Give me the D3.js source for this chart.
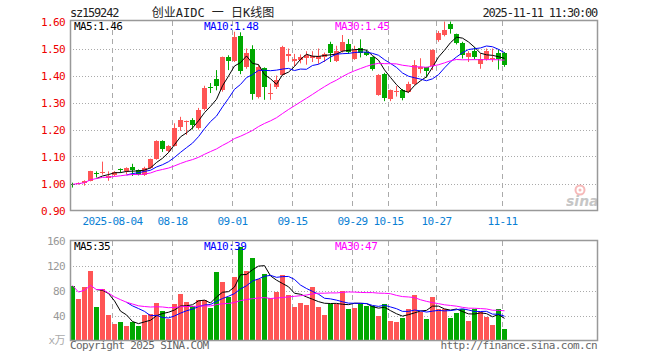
<!DOCTYPE html>
<html lang="zh">
<head>
<meta charset="utf-8">
<title>创业AIDC 日K线图</title>
<script src="https://cdn.jsdelivr.net/npm/d3@7"></script>
<style>
  body { margin: 0; background: #fff; }
  text { font-family: "DejaVu Sans Mono", "Liberation Mono", "Noto Sans CJK SC", monospace; font-size: 11px; letter-spacing: -0.6px; }
</style>
</head>
<body>
<script>

// trading days shown in the chart
var dates = [
  "2025-07-24","2025-07-25","2025-07-28","2025-07-29","2025-07-30","2025-07-31",
  "2025-08-01","2025-08-04","2025-08-05","2025-08-06","2025-08-07","2025-08-08",
  "2025-08-11","2025-08-12","2025-08-13","2025-08-14","2025-08-15","2025-08-18",
  "2025-08-19","2025-08-20","2025-08-21","2025-08-22","2025-08-25","2025-08-26",
  "2025-08-27","2025-08-28","2025-08-29","2025-09-01","2025-09-02","2025-09-03",
  "2025-09-04","2025-09-05","2025-09-08","2025-09-09","2025-09-10","2025-09-11",
  "2025-09-12","2025-09-15","2025-09-16","2025-09-17","2025-09-18","2025-09-19",
  "2025-09-22","2025-09-23","2025-09-24","2025-09-25","2025-09-26","2025-09-29",
  "2025-09-30","2025-10-09","2025-10-10","2025-10-13","2025-10-14","2025-10-15",
  "2025-10-16","2025-10-17","2025-10-20","2025-10-21","2025-10-22","2025-10-23",
  "2025-10-24","2025-10-27","2025-10-28","2025-10-29","2025-10-30","2025-10-31",
  "2025-11-03","2025-11-04","2025-11-05","2025-11-06","2025-11-07","2025-11-10",
  "2025-11-11"
];

var open = [
  1.000,0.998,1.003,1.011,1.040,1.040,1.022,1.030,1.052,1.045,1.060,1.050,
  1.033,1.057,1.091,1.158,1.120,1.140,1.210,1.230,1.234,1.205,1.275,1.356,
  1.386,1.345,1.470,1.455,1.545,1.433,1.500,1.322,1.427,1.333,1.358,1.402,
  1.472,1.452,1.457,1.464,1.466,1.460,1.470,1.515,1.455,1.490,1.518,1.462,
  1.503,1.488,1.467,1.328,1.405,1.314,1.340,1.345,1.340,1.370,1.425,1.430,
  1.435,1.530,1.550,1.592,1.552,1.520,1.467,1.491,1.443,1.462,1.462,1.483,
  1.483
];
var high = [
  1.003,1.004,1.012,1.047,1.045,1.081,1.045,1.046,1.056,1.060,1.073,1.052,
  1.062,1.092,1.160,1.160,1.142,1.223,1.247,1.233,1.242,1.280,1.362,1.372,
  1.420,1.470,1.475,1.562,1.560,1.500,1.512,1.440,1.430,1.370,1.400,1.510,
  1.500,1.480,1.478,1.490,1.490,1.500,1.485,1.525,1.510,1.550,1.535,1.510,
  1.534,1.495,1.470,1.405,1.410,1.348,1.361,1.350,1.377,1.457,1.464,1.432,
  1.497,1.565,1.600,1.600,1.555,1.525,1.490,1.505,1.482,1.500,1.500,1.497,
  1.487
];
var low = [
  0.985,0.996,0.992,1.008,1.022,1.033,1.010,1.028,1.040,1.034,1.028,1.030,
  1.028,1.055,1.088,1.117,1.115,1.137,1.195,1.180,1.200,1.200,1.270,1.335,
  1.345,1.340,1.420,1.450,1.405,1.425,1.310,1.315,1.310,1.310,1.350,1.400,
  1.451,1.435,1.445,1.440,1.450,1.443,1.450,1.450,1.450,1.485,1.480,1.458,
  1.467,1.472,1.418,1.325,1.305,1.305,1.322,1.308,1.335,1.365,1.408,1.392,
  1.420,1.525,1.545,1.555,1.515,1.463,1.450,1.460,1.425,1.455,1.450,1.422,
  1.432
];
var close = [
  0.997,1.002,1.010,1.046,1.037,1.044,1.028,1.044,1.049,1.058,1.050,1.033,
  1.058,1.090,1.158,1.128,1.139,1.204,1.235,1.232,1.218,1.272,1.355,1.352,
  1.362,1.468,1.452,1.542,1.415,1.485,1.330,1.430,1.357,1.337,1.383,1.507,
  1.478,1.462,1.470,1.476,1.472,1.473,1.480,1.482,1.490,1.525,1.488,1.495,
  1.485,1.477,1.424,1.403,1.315,1.345,1.343,1.318,1.368,1.440,1.433,1.418,
  1.494,1.556,1.567,1.573,1.520,1.476,1.485,1.470,1.462,1.490,1.466,1.460,
  1.440
];
// volume, in 10k lots (x万)
var volume = [
  88,67,86,112,54,83,41,27,30,24,30,24,41,43,60,48,34,59,75,62,
  56,65,65,52,110,94,70,102,150,112,132,99,106,68,78,105,73,54,60,57,
  86,54,41,58,58,79,51,52,58,55,55,39,59,31,30,36,51,73,46,35,
  70,51,51,36,44,50,32,50,45,38,25,50,19
];

var tickDates  = ["2025-08-04","2025-08-18","2025-09-01","2025-09-15","2025-09-29","2025-10-15","2025-10-27","2025-11-11"];
var tickLabels = ["2025-08-04","08-18","09-01","09-15","09-29","10-15","10-27","11-11"];
var priceTicks = [0.9, 1.0, 1.1, 1.2, 1.3, 1.4, 1.5, 1.6];
var volTicks = [40, 80, 120, 160];
var priceLegend = ["MA5:1.46", "MA10:1.48", "MA30:1.45"];
var volLegend = ["MA5:35", "MA10:39", "MA30:47"];

var w = 660, h = 360;
var left = 70, right = 597.5;
var red = "#ff5555", green = "#00a800", gridCol = "#aaaaaa", frameCol = "#999999";
var maColors = ["#000000", "#0000ff", "#ff00ff"];

var svg = d3.select("body").append("svg")
    .attr("width", w)
    .attr("height", h);

var x = d3.scaleBand().domain(dates).range([left, left + dates.length * 6]);
var yP = d3.scaleLinear().domain([0.9, 1.6]).range([210.5, 21.5]);
var yV = d3.scaleLinear().domain([0, 160]).range([340.5, 240.5]);

var rows = dates.map(function(d, i) {
    return { date: d, o: open[i], h: high[i], l: low[i], c: close[i], v: volume[i] };
});

// MA5/MA10 start once enough days exist, MA30 averages what is there
function movingAvg(arr, n, partial) {
    return arr.map(function(v, i) {
        if (i + 1 < n && !partial) return null;
        return d3.mean(arr.slice(Math.max(0, i - n + 1), i + 1));
    });
}

function cx(d) { return x(d) + 2.5; }

// header
svg.append("text").attr("x", 70).attr("y", 17).attr("fill", "#222")
    .style("font-size", "12px").style("letter-spacing", "-1.2px").text("sz159242");
svg.append("text").attr("x", 213).attr("y", 17).attr("fill", "#222")
    .attr("text-anchor", "middle").style("font-size", "12px").style("letter-spacing", "0px")
    .text("创业AIDC 一 日K线图");
svg.append("text").attr("x", 597).attr("y", 17).attr("fill", "#222")
    .attr("text-anchor", "end").style("font-size", "12px").style("letter-spacing", "-1.2px")
    .text("2025-11-11 11:30:00");

// grids
function drawGrid(yScale, vals, top, bottom) {
    svg.append("g").selectAll("line")
        .data(vals).enter().append("line")
        .attr("x1", left).attr("x2", right)
        .attr("y1", function(d) { return Math.round(yScale(d)) + 0.5; })
        .attr("y2", function(d) { return Math.round(yScale(d)) + 0.5; })
        .attr("stroke", gridCol).attr("stroke-dasharray", "1,2");
    svg.append("g").selectAll("line")
        .data(tickDates).enter().append("line")
        .attr("x1", function(d) { return x(d) + 0.5; })
        .attr("x2", function(d) { return x(d) + 0.5; })
        .attr("y1", top).attr("y2", bottom)
        .attr("stroke", gridCol).attr("stroke-dasharray", "5,4");
}
drawGrid(yP, [1.0, 1.1, 1.2, 1.3, 1.4, 1.5], 21, 210);
drawGrid(yV, [40, 80, 120], 241, 340);

// sina watermark
var logo = svg.append("g").attr("opacity", 0.55);
logo.append("circle").attr("cx", 580).attr("cy", 190).attr("r", 4.5)
    .attr("fill", "none").attr("stroke", "#f08080").attr("stroke-width", 2);
logo.append("circle").attr("cx", 580).attr("cy", 190).attr("r", 1.5).attr("fill", "#f08080");
logo.append("text").attr("x", 566).attr("y", 206).attr("fill", "#999")
    .style("font-family", "'DejaVu Sans', sans-serif").style("font-size", "14px")
    .style("letter-spacing", "0px")
    .style("font-weight", "bold").style("font-style", "italic").text("sina");

// candles
var candles = svg.append("g").selectAll("g")
    .data(rows).enter().append("g");
candles.append("line")
    .attr("x1", function(d) { return cx(d.date); })
    .attr("x2", function(d) { return cx(d.date); })
    .attr("y1", function(d) { return yP(d.h); })
    .attr("y2", function(d) { return yP(d.l); })
    .attr("stroke", function(d) { return d.c >= d.o ? red : green; });
candles.append("rect")
    .attr("x", function(d) { return x(d.date); })
    .attr("width", 5)
    .attr("y", function(d) { return yP(Math.max(d.o, d.c)); })
    .attr("height", function(d) { return Math.max(1, Math.abs(yP(d.o) - yP(d.c))); })
    .attr("fill", function(d) { return d.c >= d.o ? red : green; })
    .attr("shape-rendering", "crispEdges");

// volume bars
svg.append("g").selectAll("rect")
    .data(rows).enter().append("rect")
    .attr("x", function(d) { return x(d.date); })
    .attr("width", 5)
    .attr("y", function(d) { return yV(d.v); })
    .attr("height", function(d) { return yV(0) - yV(d.v); })
    .attr("fill", function(d) { return d.c >= d.o ? red : green; })
    .attr("shape-rendering", "crispEdges");

// moving average lines
function drawMA(values, yScale) {
    var sets = [movingAvg(values, 5, false), movingAvg(values, 10, false), movingAvg(values, 30, true)];
    sets.forEach(function(ma, k) {
        var line = d3.line()
            .defined(function(d) { return d != null; })
            .x(function(d, i) { return cx(dates[i]); })
            .y(function(d) { return yScale(d); });
        svg.append("path").datum(ma)
            .attr("d", line)
            .attr("fill", "none")
            .attr("stroke", maColors[k])
            .attr("stroke-width", 1);
    });
}
drawMA(close, yP);
drawMA(volume, yV);

// frames
svg.append("rect").attr("x", 70.5).attr("y", 20.5).attr("width", 527).attr("height", 190)
    .attr("fill", "none").attr("stroke", frameCol).attr("stroke-width", 1.5);
svg.append("rect").attr("x", 70.5).attr("y", 240.5).attr("width", 527).attr("height", 100)
    .attr("fill", "none").attr("stroke", frameCol).attr("stroke-width", 1.5);

// axes
var pAxis = svg.append("g").attr("transform", "translate(70,0)")
    .call(d3.axisLeft(yP).tickValues(priceTicks).tickFormat(d3.format(".2f")).tickSize(0).tickPadding(5));
pAxis.select(".domain").remove();
pAxis.selectAll("text").attr("fill", "#ee0000").style("font-size", "11px")
    .style("font-family", "'DejaVu Sans Mono', monospace");

var vAxis = svg.append("g").attr("transform", "translate(70,0)")
    .call(d3.axisLeft(yV).tickValues(volTicks).tickSize(0).tickPadding(5));
vAxis.select(".domain").remove();
vAxis.selectAll("text").attr("fill", "#999").style("font-size", "11px")
    .style("font-family", "'DejaVu Sans Mono', monospace");
svg.append("text").attr("x", 65).attr("y", 344).attr("text-anchor", "end")
    .attr("fill", "#aaa").text("x万");

svg.append("g").selectAll("text")
    .data(tickDates).enter().append("text")
    .attr("x", function(d) { return x(d) + 0.5; })
    .attr("y", 225)
    .attr("text-anchor", "middle")
    .attr("fill", "#0a7fd4")
    .text(function(d, i) { return tickLabels[i]; });

// legends
var legendX = [74, 204, 335];
function drawLegend(labels, y) {
    svg.append("g").selectAll("text")
        .data(labels).enter().append("text")
        .attr("x", function(d, i) { return legendX[i]; })
        .attr("y", y)
        .attr("fill", function(d, i) { return maColors[i]; })
        .text(function(d) { return d; });
}
drawLegend(priceLegend, 30);
drawLegend(volLegend, 250);

// footer
svg.append("text").attr("x", 70).attr("y", 349).attr("fill", "#666")
    .text("Copyright 2025 SINA.COM");
svg.append("text").attr("x", 597).attr("y", 349).attr("fill", "#666")
    .attr("text-anchor", "end").text("http://finance.sina.com.cn");

</script>
</body>
</html>
